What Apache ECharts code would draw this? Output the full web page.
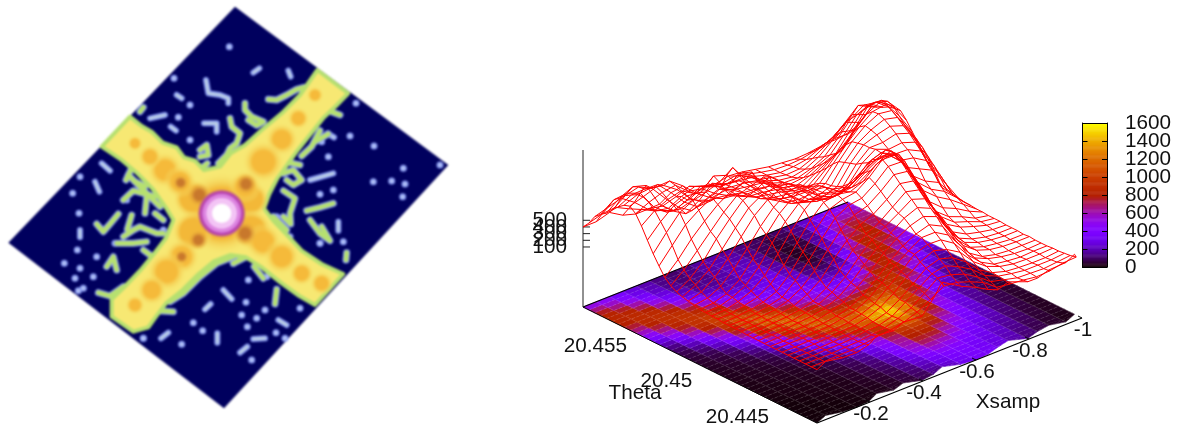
<!DOCTYPE html>
<html><head><meta charset="utf-8">
<script src="https://cdn.jsdelivr.net/npm/echarts@6/dist/echarts.min.js"></script>
<style>html,body{margin:0;padding:0;background:#fff;overflow:hidden}
#img{position:absolute;left:0;top:0;width:460px;height:431px;filter:blur(1.25px)}
#plot{position:absolute;left:460px;top:0;width:717px;height:431px}</style></head>
<body><div id="img"></div><div id="plot"></div>
<script>
/* ---------- detector image: shapes, in image units ---------- */
const imageFrame=[[705,20],[1345,495],[672,1225],[25,728]];
const bandOutline=[[305,440],[390,350],[425,378],[455,395],[488,428],[530,442],[552,472],[585,482],[612,510],[660,500],[692,460],[735,435],[785,390],[845,340],[900,285],[952,210],[1045,280],[1008,318],[972,352],[932,402],[892,452],[860,497],[832,535],[808,582],[792,625],[820,662],[868,712],[905,752],[965,792],[1030,822],[945,915],[898,888],[842,848],[782,800],[738,772],[690,765],[640,785],[596,822],[548,870],[498,910],[468,950],[445,982],[400,995],[335,950],[335,898],[376,858],[420,812],[460,764],[498,714],[520,660],[497,622],[458,567],[410,518],[362,478]];
const greenStrokes=[
[[735,310],[735,330],[755,350],[790,365],[770,376],[745,360]],[[805,298],[830,300],[860,285],[890,268],[912,262]],[[690,355],[695,380],[720,400],[710,430],[690,445],[680,465],[655,490]],[[600,470],[625,465],[620,435],[600,450]],[[622,490],[610,500]],[[430,322],[420,335]],
[[1008,270],[1030,287]],[[980,330],[1020,345]],[[945,425],[985,402]],[[868,488],[900,495]],[[850,520],[880,510],[905,540],[880,555],[860,540]],[[850,572],[885,595],[870,640],[872,672],[850,650]],[[920,632],[960,622],[1000,610]],[[930,660],[960,700],[990,722],[965,680]],[[1040,758],[1038,780]],[[960,392],[935,440],[905,468]],
[[290,672],[310,695],[330,672],[355,642]],[[405,545],[435,560]],[[370,600],[400,572],[465,590]],[[440,590],[435,640]],[[465,640],[490,660]],[[370,710],[400,690],[420,680],[470,700],[490,700]],[[350,730],[400,730],[440,725]],[[430,750],[460,772]],[[320,800],[340,770],[350,810]],[[295,878],[330,888],[370,860],[345,905]],[[392,510],[378,540]],[[395,645],[382,688]],
[[510,905],[550,880],[600,830],[650,790],[700,770]],[[830,868],[825,912]],[[762,800],[790,835]],[[470,932],[520,935]],[[700,790],[735,772]],[[385,525],[430,570],[480,620]],[[820,650],[860,690]],[[430,835],[395,875]]];
const dotChains=[[[618,240],[625,280],[660,285],[685,295],[685,310]],[[450,355],[495,345]],[[530,285],[545,295]],[[512,380],[528,392]],[[760,218],[778,205]],[[865,212],[872,230]],[[285,545],[298,575]],[[305,490],[330,512]],[[612,370],[650,370],[650,395]],[[930,540],[1000,520]],[[240,690],[240,712]],[[760,1017],[795,1015]],[[720,1058],[742,1040]],[[615,928],[632,912]],[[670,870],[695,897]],[[652,1000],[652,1028]],[[483,1015],[505,998]],[[835,960],[860,975]],[[982,400],[1002,412]],[[1015,665],[1015,692]]];
const dotsX=[688,522,570,1068,1050,1122,1210,1320,1120,1175,1215,1208,535,570,240,218,237,232,290,193,240,225,280,250,235,738,725,770,795,580,608,742,828,855,430,545,755,900,740,700,770,745,800,965,985,960,1000,960,1030,960,870,830,725,505,490,430,380,345,505,375];
const dotsY=[140,235,315,310,408,438,505,495,545,543,552,590,352,420,530,580,640,750,770,790,805,835,830,865,872,907,945,955,930,968,992,980,998,1015,1015,1033,1080,925,770,790,800,840,830,425,470,583,570,730,725,730,710,650,460,620,690,1015,600,730,820,860];
const orangeCore=[[665,640,125],[578,595,60],[752,598,56],[578,695,62],[755,690,62]];
const orangeSpots=[[945,285,26],[895,355,34],[845,418,50],[790,485,64],[495,510,55],[450,470,36],[405,430,24],[545,770,54],[500,815,60],[455,870,46],[405,915,30],[790,725,56],[845,770,54],[905,820,38],[965,850,36],[540,545,50],[735,560,50]];
const brownSpots=[[738,552,32],[598,585,36],[542,548,24],[735,700,36],[595,720,30],[545,770,22]];
const centreRings=[[665,640,70,'#c66a7c'],[665,640,66,'#b844b0'],[665,640,58,'#dc84e0'],[665,640,46,'#f3c4f5'],[665,640,29,'#ffffff']];

/* ---------- surface: values ---------- */
const xsamp=[0,-0.05,-0.1,-0.15,-0.2,-0.25,-0.3,-0.35,-0.4,-0.45,-0.5,-0.55,-0.6,-0.65,-0.7,-0.75,-0.8,-0.85,-0.9,-0.95,-1];
const theta=[20.441,20.44183,20.44265,20.44348,20.4443,20.44513,20.44595,20.44678,20.4476,20.44843,20.44925,20.45008,20.4509,20.45173,20.45255,20.45338,20.4542,20.45503,20.45585,20.45668,20.4575];
const frontEdge=[0,.02,.005,0,.005,.028,.012,.028,.005,.012,.032,.008,0,.005,.02,.032,.005,.02,.028,.012,.032];
const intensity=[
[10,10,10,10,10,20,30,40,60,100,170,260,340,370,320,220,140,90,50,30,20],
[10,10,10,10,20,20,30,50,80,130,220,320,370,360,310,240,160,100,60,30,20],
[10,10,10,20,20,30,40,60,100,180,300,400,420,370,320,260,190,120,70,40,30],
[10,10,20,20,20,30,50,80,130,230,400,560,580,480,380,300,220,140,80,40,30],
[10,20,20,20,30,40,60,100,170,290,480,700,780,660,480,360,260,160,90,50,30],
[20,20,20,30,30,50,80,140,230,360,550,760,880,820,620,440,300,180,100,50,40],
[20,20,30,30,40,70,120,220,360,500,680,900,1080,1020,800,530,340,200,110,60,40],
[20,30,30,40,60,100,200,370,560,720,850,1100,1350,1280,1000,620,370,220,120,70,50],
[30,30,40,50,90,170,340,580,820,1000,1080,1300,1520,1480,1150,750,450,250,130,80,60],
[30,40,50,80,150,300,540,830,1080,1180,1120,1150,1350,1350,1150,900,580,320,170,100,70],
[40,50,70,130,270,500,780,1050,1220,1120,950,880,950,1050,1050,1000,720,420,230,130,90],
[50,70,120,250,450,730,1000,1200,1180,950,720,650,650,700,850,950,880,560,320,180,110],
[70,110,230,430,680,950,1120,1180,950,680,550,520,480,450,560,800,920,700,430,260,160],
[120,200,420,650,880,1050,1100,950,680,480,450,420,330,280,330,580,850,820,580,360,220],
[220,400,620,850,980,1020,900,650,450,370,380,350,230,160,170,350,720,880,720,500,300],
[450,600,820,930,950,850,620,400,320,300,330,300,170,90,90,200,550,820,830,650,400],
[650,800,900,920,830,600,380,260,220,240,300,280,120,50,40,130,400,750,860,750,500],
[780,880,900,820,560,340,200,160,170,210,260,240,100,40,30,100,300,600,800,800,600],
[850,850,780,560,360,220,140,130,160,200,220,200,110,50,40,90,230,450,720,750,620],
[780,700,520,360,250,170,120,120,180,200,200,170,120,70,60,90,190,350,500,600,550],
[420,480,380,300,220,160,120,100,150,180,180,150,110,90,100,130,180,280,380,420,450]];
const meshTheta=[20.441,20.44141,20.44183,20.44224,20.44265,20.44306,20.44348,20.44389,20.4443,20.44471,20.44513,20.44554,20.44595,20.44636,20.44678,20.44719,20.4476,20.44801,20.44843,20.44884,20.44925,20.44966,20.45008,20.45049,20.4509,20.45131,20.45173,20.45214,20.45255,20.45296,20.45338,20.45379,20.4542,20.45461,20.45503,20.45544,20.45585,20.45626,20.45668,20.45709,20.4575];
const meshValues=[
[0,10,10,20,50,70,90,110,160,340,470,370,290,170,60,80,50,0,30,90,100],
[0,0,10,10,30,60,80,120,190,300,420,400,330,240,90,60,40,10,20,60,70],
[0,0,0,10,20,40,70,130,210,350,500,470,400,280,130,80,30,20,10,30,50],
[0,0,10,10,20,50,60,120,250,380,520,560,470,350,180,90,50,20,20,20,40],
[0,0,0,10,20,40,70,130,250,400,560,620,560,420,220,100,40,20,10,10,30],
[0,0,10,20,30,50,90,170,300,470,610,700,640,520,300,150,70,30,20,20,30],
[0,0,10,10,20,50,100,180,340,500,680,750,740,610,360,170,60,30,10,20,20],
[0,10,10,20,30,70,110,210,370,550,690,810,810,690,440,190,100,50,20,10,20],
[0,0,10,20,30,60,110,220,380,560,720,820,880,780,480,220,90,40,20,20,20],
[0,10,20,20,40,90,150,290,450,650,790,900,960,880,580,290,140,70,40,30,30],
[0,10,10,30,50,90,170,320,510,690,830,970,1050,960,670,330,140,70,40,20,20],
[0,10,20,20,60,110,210,360,570,760,880,1000,1130,1060,750,390,170,90,50,30,30],
[0,10,20,30,60,110,230,420,640,800,900,1050,1200,1150,820,440,190,100,50,30,30],
[10,10,20,40,80,170,310,540,740,900,980,1120,1280,1240,930,520,240,130,80,40,30],
[10,20,30,50,110,220,400,640,860,1000,1060,1200,1370,1340,1020,610,310,190,120,60,40],
[10,10,30,70,120,290,510,760,990,1100,1130,1270,1450,1440,1110,690,380,220,150,70,40],
[10,20,40,80,160,340,600,860,1080,1150,1180,1320,1510,1500,1180,760,420,260,180,80,40],
[20,20,60,110,230,430,690,950,1140,1180,1140,1220,1400,1450,1260,880,520,350,260,140,50],
[20,30,80,160,310,560,820,1060,1220,1170,1100,1130,1260,1380,1340,1010,640,470,350,200,50],
[30,40,100,200,400,680,920,1110,1230,1200,1060,1040,1180,1300,1350,1120,720,540,430,250,60],
[30,50,110,250,480,760,1000,1160,1240,1180,1050,1000,1120,1260,1320,1180,780,620,520,280,60],
[50,80,180,360,590,840,1050,1190,1230,1090,930,860,950,1080,1180,1140,860,760,660,380,70],
[70,130,270,470,720,960,1120,1210,1180,1020,850,770,820,930,1070,1090,920,880,760,470,90],
[90,190,340,570,810,1030,1150,1180,1160,980,780,690,700,800,1000,1070,970,960,860,560,100],
[120,240,420,680,900,1100,1180,1300,1130,900,720,640,620,720,950,1080,1000,1020,950,650,120],
[170,330,540,750,960,1130,1190,1250,1040,800,640,570,560,640,890,1060,1060,1110,1040,750,240],
[250,440,670,860,1030,1150,1210,1130,1010,730,580,520,520,590,860,1060,1130,1180,1110,830,330],
[380,610,840,980,1090,1120,1290,1240,920,680,530,490,490,560,830,1040,1160,1240,1190,900,450],
[520,760,980,1080,1130,1200,1340,1080,860,620,500,470,480,550,800,1020,1180,1280,1250,950,600],
[680,880,1040,1110,1080,1250,1180,950,780,590,510,470,460,510,720,930,1120,1270,1300,1050,730],
[850,1000,1090,1140,1020,1090,950,830,700,550,490,460,420,450,620,820,1000,1190,1290,1150,860],
[990,1080,1150,1180,1010,970,820,710,620,530,490,450,390,380,530,680,810,1040,1240,1180,960],
[1060,1120,1190,1200,1050,860,720,620,600,500,480,440,360,330,450,560,640,900,1150,1150,950],
[1030,1110,1130,1090,950,740,600,590,560,510,490,450,350,300,370,470,550,790,1030,1080,930],
[960,1060,1070,1060,860,640,490,500,590,520,490,460,340,280,300,390,480,690,920,1010,880],
[870,1010,1060,960,730,520,390,470,550,510,490,450,330,260,250,310,410,600,820,950,840],
[780,930,1020,960,600,420,300,420,600,500,480,450,320,250,220,260,360,520,720,900,800],
[720,860,880,800,520,360,330,390,500,430,420,420,300,250,210,220,300,420,570,720,640],
[640,700,760,620,440,340,260,340,470,400,350,390,300,240,200,210,240,330,420,560,480],
[500,560,580,480,390,290,250,350,420,340,300,340,290,240,200,190,200,240,300,370,320],
[400,400,460,340,280,280,240,300,380,300,260,300,280,240,200,180,160,170,200,230,220]];
const xTicks=[-0.2,-0.4,-0.6,-0.8,-1];
const thetaTicks=[20.445,20.45,20.455];
const zTicks=[100,200,300,400,500];
const colorTicks=[0,200,400,600,800,1000,1200,1400,1600];

/* ---------- view of the 3D box ---------- */
const view={bx:817,by:423,sx:265,sy:-105,rx:-234,ry:-116,zBase:-800,zk:0.0667};
const xRange=[0,-1],thetaRange=[20.441,20.4575];
function proj(x,t,z){const s=(x-xRange[0])/(xRange[1]-xRange[0]),r=(t-thetaRange[0])/(thetaRange[1]-thetaRange[0]);
 return [view.bx+view.sx*s+view.rx*r, view.by+view.sy*s+view.ry*r-(z-view.zBase)*view.zk];}
const span=thetaRange[1]-thetaRange[0];
const rowTheta=(j,i)=>j===0?theta[0]+frontEdge[i]*span:theta[j];
function pal(v){const x=Math.max(0,Math.min(1,v/1600));
 const c=n=>Math.round(255*Math.max(0,Math.min(1,n)));
 return `rgb(${c(Math.sqrt(x))},${c(x*x*x)},${c(Math.sin(2*Math.PI*x))})`;}
const FONT='"Liberation Sans",Arial,sans-serif';

/* ---------- left chart ---------- */
const imgChart=echarts.init(document.getElementById('img'));
const poly=(api,pts,style)=>({type:'polygon',shape:{points:pts.map(p=>api.coord(p))},style});
const line=(api,pts,w,color)=>({type:'polyline',shape:{points:pts.map(p=>api.coord(p))},style:{fill:null,stroke:color,lineWidth:w,lineCap:'round',lineJoin:'round'}});
const disc=(api,d,color)=>{const c=api.coord([d[0],d[1]]);return {type:'circle',shape:{cx:c[0],cy:c[1],r:d[2]/3},style:{fill:color}};};
const soft=(inner,outer,stop)=>new echarts.graphic.RadialGradient(.5,.5,.5,[{offset:0,color:inner},{offset:stop,color:inner},{offset:1,color:outer}]);
imgChart.setOption({animation:false,
 grid:{left:0,top:0,width:460,height:431},
 xAxis:{type:'value',min:0,max:1380,show:false},
 yAxis:{type:'value',min:0,max:1293,inverse:true,show:false},
 series:[{type:'custom',coordinateSystem:'cartesian2d',silent:true,clip:false,data:[[0,0]],
  renderItem:(p,api)=>{const ch=[];
   ch.push(poly(api,imageFrame,{fill:'#00005e'}));
   dotsX.forEach((x,i)=>{ch.push(disc(api,[x,dotsY[i],10.5],'#8b9df2'));});
   dotChains.forEach(l=>ch.push(line(api,l,6,'#8b9df2')));
   dotsX.forEach((x,i)=>{ch.push(disc(api,[x,dotsY[i],4.5],'#c4d2f4'));});
   dotChains.forEach(l=>ch.push(line(api,l,2.2,'#c4d8e0')));
   greenStrokes.forEach(l=>ch.push(line(api,l,7,'#8b9df2')));
   greenStrokes.forEach(l=>ch.push(line(api,l,4.6,'#b6e070')));
   ch.push(poly(api,bandOutline,{fill:'#f7e873',stroke:'#b6e070',lineWidth:4,lineJoin:'round'}));
   orangeCore.forEach(d=>ch.push(disc(api,d,soft('rgba(243,184,56,1)','rgba(247,232,115,0)',.6))));
   orangeSpots.forEach(d=>ch.push(disc(api,d,soft('rgba(245,186,58,1)','rgba(247,232,115,0)',.5))));
   brownSpots.forEach(d=>ch.push(disc(api,d,soft('rgba(200,120,44,1)','rgba(243,186,60,0)',.4))));
   centreRings.forEach(d=>ch.push(disc(api,d,d[3])));
   return {type:'group',children:ch};}}]});

/* ---------- right chart ---------- */
const cells=[];for(let j=0;j<theta.length-1;j++)for(let i=0;i<xsamp.length-1;i++)cells.push([i,j]);
const O=460;
const plot=echarts.init(document.getElementById('plot'));
const strip=[];for(let v=0;v<1600;v+=10)strip.push([v,v+10]);
const txt=(api,p,s,align)=>{const c=api.coord(p);return {type:'text',x:c[0],y:c[1],style:{text:s,fill:'#111',font:'20.7px '+FONT,textAlign:align||'center',textVerticalAlign:'middle'}};};
const seg=(api,a,b,w,col)=>({type:'line',shape:{x1:api.coord(a)[0],y1:api.coord(a)[1],x2:api.coord(b)[0],y2:api.coord(b)[1]},style:{stroke:col||'#000',lineWidth:w||1}});
const cbAxis={min:0,max:1600,interval:200,type:'value',z:10,axisLine:{show:true,onZero:false,lineStyle:{color:'#000',width:1}},splitLine:{show:false}};
const F=(a,b,u)=>a+(b-a)*u;
plot.setOption({animation:false,
 grid:[{left:0,top:0,width:717,height:431},{left:622.5,top:123,width:24.5,height:144}],
 xAxis:[{type:'value',min:O,max:1177,show:false,gridIndex:0},
  {type:'value',min:0,max:1,gridIndex:1,position:'bottom',z:10,axisLine:{show:true,onZero:false,lineStyle:{color:'#000'}},axisTick:{show:false},axisLabel:{show:false},splitLine:{show:false}},
  {type:'value',min:0,max:1,gridIndex:1,position:'top',z:10,axisLine:{show:true,onZero:false,lineStyle:{color:'#000'}},axisTick:{show:false},axisLabel:{show:false},splitLine:{show:false}}],
 yAxis:[{type:'value',min:0,max:431,inverse:true,show:false,gridIndex:0},
  Object.assign({},cbAxis,{gridIndex:1,position:'right',axisTick:{show:true,inside:true,length:5,lineStyle:{color:'#000'}},axisLabel:{show:false}}),
  Object.assign({},cbAxis,{gridIndex:1,position:'left',axisTick:{show:true,inside:true,length:5,lineStyle:{color:'#000'}},axisLabel:{show:false}})],
 series:[
 {type:'custom',coordinateSystem:'cartesian2d',xAxisIndex:0,yAxisIndex:0,silent:true,clip:false,z:1,data:cells,
  renderItem:(p,api)=>{const i=api.value(0),j=api.value(1),ch=[];
   const pt=(a,b)=>api.coord(proj(F(xsamp[i],xsamp[i+1],a),F(rowTheta(j,i),rowTheta(j,i+1),a)+(F(rowTheta(j+1,i),rowTheta(j+1,i+1),a)-F(rowTheta(j,i),rowTheta(j,i+1),a))*b,view.zBase));
   const val=(a,b)=>F(F(intensity[j][i],intensity[j][i+1],a),F(intensity[j+1][i],intensity[j+1][i+1],a),b);
   for(let v=0;v<2;v++){const b=v/2,e=.5;
    const col=pal(val(.5,b+e/2));
    ch.push({type:'polygon',shape:{points:[pt(0,b),pt(1,b),pt(1,b+e),pt(0,b+e)]},style:{fill:col,stroke:col,lineWidth:.6}});}
   return {type:'group',children:ch};}},
 {type:'custom',coordinateSystem:'cartesian2d',xAxisIndex:0,yAxisIndex:0,silent:true,clip:false,z:1.5,data:meshTheta.map((_,j)=>[j]),
  renderItem:(p,api)=>{const j=api.value(0);const t=meshTheta[j];
   return {type:'polyline',shape:{points:xsamp.map((x,i)=>api.coord(proj(x,j===0?rowTheta(0,i):t,view.zBase)))},style:{fill:null,stroke:'rgba(255,255,255,0.2)',lineWidth:.7,lineDash:[3,2]}};}},
 {type:'custom',coordinateSystem:'cartesian2d',xAxisIndex:0,yAxisIndex:0,silent:true,clip:false,z:1.5,data:xsamp.map((_,i)=>[i]),
  renderItem:(p,api)=>{const i=api.value(0);
   return {type:'polyline',shape:{points:meshTheta.map((t,j)=>api.coord(proj(xsamp[i],j===0?rowTheta(0,i):t,view.zBase)))},style:{fill:null,stroke:'rgba(255,255,255,0.14)',lineWidth:.7}};}},
 {type:'custom',coordinateSystem:'cartesian2d',xAxisIndex:0,yAxisIndex:0,silent:true,clip:false,z:2,data:[[0,0]],
  renderItem:(p,api)=>{const ch=[];
   const L=proj(0,thetaRange[1],view.zBase),B=proj(0,thetaRange[0],view.zBase),R=proj(-1,thetaRange[0],view.zBase),K=proj(-1,thetaRange[1],view.zBase);
   ch.push(seg(api,L,B,1),seg(api,B,R,1.3),seg(api,L,K,1.2));
   ch.push(seg(api,L,[L[0],150],1,'#222'));
   zTicks.forEach(z=>{const a=proj(0,thetaRange[1],z);ch.push(seg(api,a,[a[0]+7,a[1]],1,'#222'));});
   return {type:'group',children:ch};}},
 {type:'custom',coordinateSystem:'cartesian2d',xAxisIndex:0,yAxisIndex:0,silent:true,clip:false,z:3,data:meshTheta.map((_,j)=>[j]),
  renderItem:(p,api)=>{const j=api.value(0);
   return {type:'polyline',shape:{points:xsamp.map((x,i)=>api.coord(proj(x,j===0?rowTheta(0,i):meshTheta[j],meshValues[j][i])))},style:{fill:null,stroke:'#ff0000',lineWidth:1}};}},
 {type:'custom',coordinateSystem:'cartesian2d',xAxisIndex:0,yAxisIndex:0,silent:true,clip:false,z:3,data:xsamp.map((_,i)=>[i]),
  renderItem:(p,api)=>{const i=api.value(0);
   return {type:'polyline',shape:{points:meshTheta.map((t,j)=>api.coord(proj(xsamp[i],j===0?rowTheta(0,i):t,meshValues[j][i])))},style:{fill:null,stroke:'#ff0000',lineWidth:1}};}},
 {type:'custom',coordinateSystem:'cartesian2d',xAxisIndex:0,yAxisIndex:0,silent:true,clip:false,z:5,data:[[0,0]],
  renderItem:(p,api)=>{const ch=[];
   zTicks.forEach(z=>{const a=proj(0,thetaRange[1],z);ch.push(txt(api,[a[0]-16,a[1]],String(z),'right'));});
   xTicks.forEach(x=>{const a=proj(x,thetaRange[0],view.zBase);ch.push(txt(api,[a[0]+1,a[1]+12],String(x)));ch.push(seg(api,a,[a[0]-4,a[1]-2],1));});
   thetaTicks.forEach(t=>{const a=proj(0,t,view.zBase);ch.push(txt(api,[a[0]-23,a[1]+22],String(t)));});
   ch.push(txt(api,[635,393],'Theta'),txt(api,[1008,402],'Xsamp'));
   return {type:'group',children:ch};}},
 {type:'custom',coordinateSystem:'cartesian2d',xAxisIndex:1,yAxisIndex:1,silent:true,z:1,data:strip,
  renderItem:(p,api)=>{const a=api.coord([0,api.value(1)]),b=api.coord([1,api.value(0)]);
   return {type:'rect',shape:{x:a[0],y:a[1],width:b[0]-a[0],height:b[1]-a[1]+0.5},style:{fill:pal((api.value(0)+api.value(1))/2)}};}},
 {type:'custom',coordinateSystem:'cartesian2d',xAxisIndex:1,yAxisIndex:1,silent:true,clip:false,z:6,data:colorTicks.map(v=>[1,v]),
  renderItem:(p,api)=>{const c=api.coord([1,api.value(1)]);
   return {type:'text',x:c[0]+18,y:c[1],style:{text:String(api.value(1)),fill:'#111',font:'20.7px '+FONT,textAlign:'left',textVerticalAlign:'middle'}};}}
 ]});
</script></body></html>
